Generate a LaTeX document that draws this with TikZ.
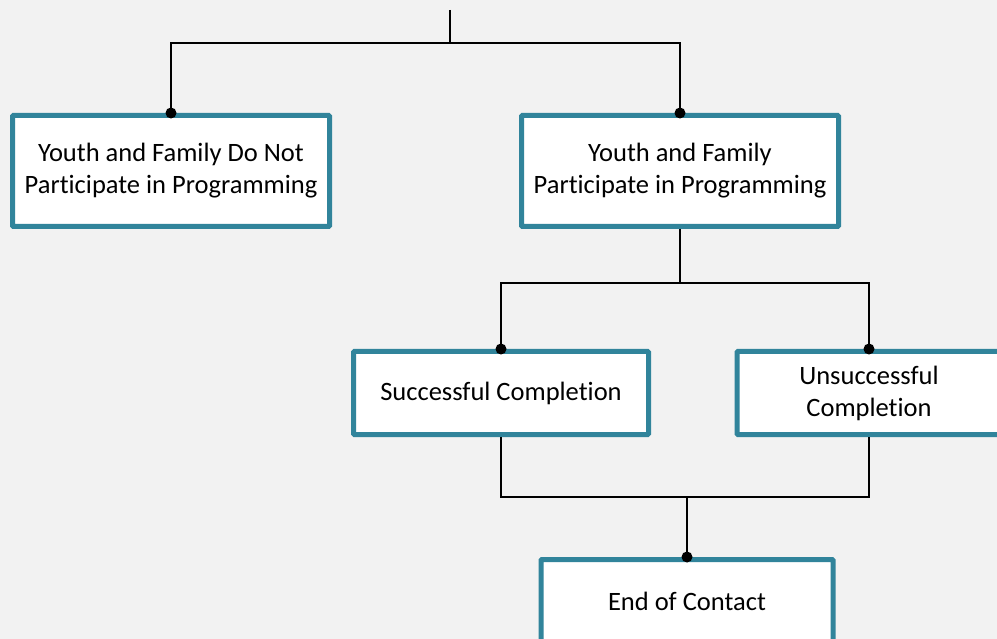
\documentclass[tikz,border=0pt]{standalone}
\usepackage{fontspec}
\setmainfont{Carlito}[Ligatures={NoCommon}]
\usetikzlibrary{positioning}
\definecolor{boxteal}{HTML}{31849B}
\definecolor{paper}{HTML}{F2F2F2}

\begin{document}
\begin{tikzpicture}[x=1pt,y=-1pt,
   box/.style={draw=boxteal,line width=5pt,fill=white,align=center,inner sep=0pt,
               rounded corners=1pt,font=\fontsize{26.5}{32}\selectfont},
   link/.style={line width=1.8pt},
   dot/.style={circle,fill=black,inner sep=0pt,minimum size=11pt}]
   \fill[paper] (0,0) rectangle (997,639);
   \useasboundingbox (0,0) rectangle (997,639);

   \node[box,minimum width=317pt,minimum height=111pt] (nopart) at (171,171)
        {Youth and Family Do Not\\Participate in Programming};
   \node[box,minimum width=317pt,minimum height=111pt] (part) at (680,171)
        {Youth and Family\\Participate in Programming};
   \node[box,minimum width=295pt,minimum height=83pt] (succ) at (501,393)
        {Successful Completion};
   \node[box,minimum width=264pt,minimum height=83pt] (unsucc) at (869,393)
        {Unsuccessful\\Completion};
   \node[box,minimum width=292pt,minimum height=83pt] (end) at (687,601)
        {End of Contact};

   \coordinate (top) at (450,10);
   \coordinate (split1) at (450,43);
   \coordinate (split2) at (680,283);
   \coordinate (join) at (687,497);

   \draw[link] (top) -- (split1);
   \draw[link] (nopart.north) |- (split1) -| (part.north);
   \draw[link] (part.south) -- (split2);
   \draw[link] (succ.north) |- (split2) -| (unsucc.north);
   \draw[link] (succ.south) |- (join) -| (unsucc.south);
   \draw[link] (join) -- (end.north);

   \foreach \n in {nopart,part,succ,unsucc,end}
      \node[dot] at (\n.north) {};
\end{tikzpicture}
\end{document}
